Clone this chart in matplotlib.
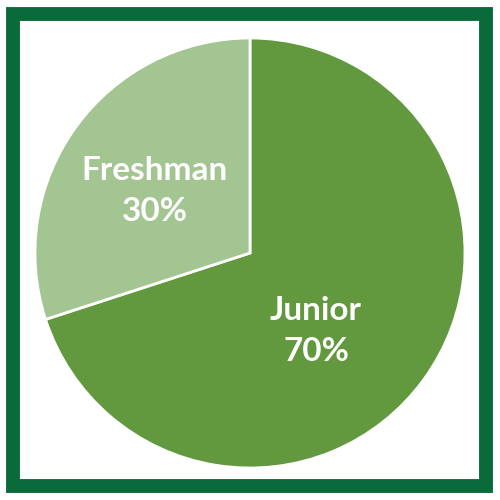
import matplotlib
matplotlib.use('Agg')
import matplotlib.pyplot as plt
from matplotlib.patches import Rectangle

# data
labels = ['Junior', 'Freshman']
shares = [70, 30]
colors = ['#62993E', '#A3C591']

fig = plt.figure(figsize=(5, 5), dpi=100)
ax = fig.add_axes([0, 0, 1, 1])
ax.set_xlim(0, 500)
ax.set_ylim(0, 500)
ax.set_aspect('equal')
ax.axis('off')

# pie in pixel-like coords (y up)
wedges, _ = ax.pie(shares, colors=colors, startangle=90, counterclock=False,
                   center=(250, 247), radius=215,
                   wedgeprops=dict(edgecolor='white', linewidth=2))
ax.set_xlim(0, 500)
ax.set_ylim(0, 500)

# labels
pos = {'Junior': (316, 500 - 331), 'Freshman': (155, 500 - 191)}
for lab, val in zip(labels, shares):
    x, y = pos[lab]
    ax.text(x, y, f'{lab}\n{val}%', ha='center', va='center', color='white',
            fontsize=24, fontweight='bold', family=['Lato', 'DejaVu Sans'],
            linespacing=1.47)

# dark green frame
ax.add_patch(Rectangle((13, 14), 473, 472, fill=False, edgecolor='#0B6A3A',
                       linewidth=10))

fig.savefig('out.png', dpi=100)
